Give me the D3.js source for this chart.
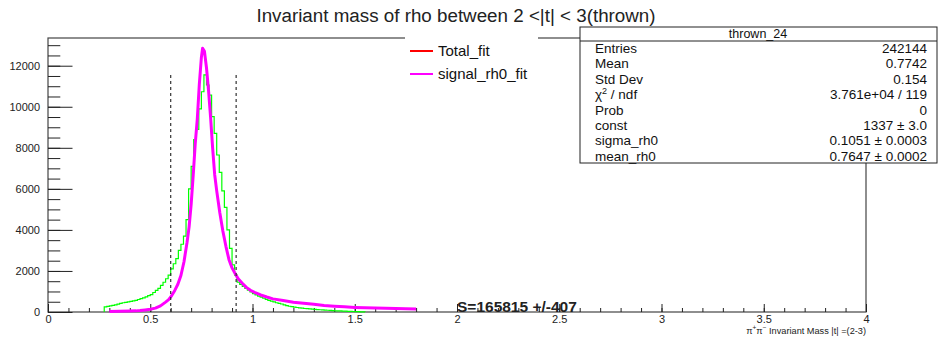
<!DOCTYPE html>
<html>
<head>
<meta charset="utf-8">
<script src="https://cdn.jsdelivr.net/npm/d3@7"></script>
<style>
  body { margin: 0; background: #fff; }
  svg { display: block; font-family: "Liberation Sans", Arial, Helvetica, sans-serif; }
</style>
</head>
<body>
<svg width="941" height="340"></svg>
<script>
// green histogram: bins of width 0.0125 starting at 0.275
const binStart = 0.275;
const binWidth = 0.0125;
const greenCounts = [
  250, 270, 300, 320, 350, 380, 420, 450, 470, 490,
  520, 540, 570, 610, 650, 690, 740, 800, 850, 950,
  1050, 1150, 1300, 1450, 1620, 1800, 2100, 2350, 2600, 3000,
  3300, 3700, 4500, 6000, 7100, 8400, 8900, 9900, 10730, 11550,
  11060, 10570, 9520, 8700, 7650, 6800, 5900, 5100, 4000, 3100,
  2300, 1800, 1450, 1350, 1250, 1150, 1070, 980, 900, 830,
  770, 720, 670, 620, 570, 530, 490, 450, 420, 390,
  350, 310, 280, 260, 240, 220, 200, 185, 170, 160,
  150, 140, 130, 120, 110, 100, 90, 85, 75, 70,
  60, 55, 50, 45, 40, 35, 30, 25, 20, 15,
  10, 5
];

// magenta fit curve samples
const fitX = [
  0.30, 0.35, 0.40, 0.43, 0.45, 0.475, 0.50, 0.525, 0.55, 0.575,
  0.59, 0.605, 0.62, 0.635, 0.65, 0.665, 0.68, 0.69, 0.70, 0.71,
  0.72, 0.73, 0.74, 0.75, 0.756, 0.765, 0.775, 0.785, 0.795, 0.805,
  0.815, 0.825, 0.84, 0.855, 0.87, 0.885, 0.90, 0.915, 0.93, 0.95,
  0.97, 0.99, 1.01, 1.04, 1.07, 1.10, 1.15, 1.20, 1.25, 1.30,
  1.35, 1.40, 1.45, 1.50, 1.55, 1.60, 1.65, 1.70, 1.75, 1.80
];
const fitY = [
  30, 35, 45, 55, 70, 100, 135, 190, 300, 480,
  600, 800, 1050, 1350, 1780, 2450, 3400, 4150, 5250, 6650,
  8200, 9400, 11100, 12400, 12850, 12700, 11900, 10800, 9500, 8000,
  6700, 5900, 4850, 3950, 3200, 2550, 2150, 1870, 1620, 1400,
  1200, 1060, 960, 830, 730, 640, 560, 480, 430, 380,
  320, 280, 250, 225, 210, 200, 185, 170, 160, 150
];

// window cut lines
const cutLines = [0.6, 0.92];
const cutTop = 11550;

const xTicks = [0, 0.5, 1, 1.5, 2, 2.5, 3, 3.5, 4];
const xMinorTicks = d3.range(0, 40).map((i) => i / 10);
const yTicks = [0, 2000, 4000, 6000, 8000, 10000, 12000];
const yMinorTicks = d3.range(0, 27).map((i) => i * 500);

const legendNames = ["Total_fit", "signal_rh0_fit"];
const legendColors = ["#ff0000", "#ff00ff"];

const statsTitle = "thrown_24";
const statsLabels = ["Entries", "Mean", "Std Dev", "chi", "Prob", "const", "sigma_rh0", "mean_rh0"];
const statsValues = ["242144", "0.7742", "0.154", "3.761e+04 / 119", "0", "1337 \u00b1 3.0", "0.1051 \u00b1 0.0003", "0.7647 \u00b1 0.0002"];

const yieldText = "S=165815 +/-407";

let svg = d3.select("svg");

let frameLeft = 48, frameRight = 866, frameTop = 38, frameBottom = 312;

let x = d3.scaleLinear().domain([0, 4]).range([frameLeft, frameRight]);
let y = d3.scaleLinear().domain([0, 13350]).range([frameBottom, frameTop]);

// frame
svg
  .append("rect")
  .attr("x", frameLeft)
  .attr("y", frameTop)
  .attr("width", frameRight - frameLeft)
  .attr("height", frameBottom - frameTop)
  .attr("fill", "none")
  .attr("stroke", "#444")
  .attr("stroke-width", 1.2);

// y axis, ticks pointing into the frame
let yMinor = svg
  .append("g")
  .attr("transform", `translate(${frameLeft},0)`)
  .call(d3.axisLeft(y).tickValues(yMinorTicks).tickSize(-12.3).tickFormat(""));
yMinor.select(".domain").remove();

let yMajor = svg
  .append("g")
  .attr("transform", `translate(${frameLeft},0)`)
  .call(d3.axisLeft(y).tickValues(yTicks).tickSize(-24.5).tickPadding(8).tickFormat(d3.format("d")));
yMajor.select(".domain").remove();
yMajor.selectAll("text").attr("font-size", "11px").attr("fill", "#222").attr("font-family", null);

// x axis
let xMinor = svg
  .append("g")
  .attr("transform", `translate(0,${frameBottom})`)
  .call(d3.axisBottom(x).tickValues(xMinorTicks).tickSize(-4).tickFormat(""));
xMinor.select(".domain").remove();

let xMajor = svg
  .append("g")
  .attr("transform", `translate(0,${frameBottom})`)
  .call(d3.axisBottom(x).tickValues(xTicks).tickSize(-8).tickPadding(3).tickFormat((d) => String(d)));
xMajor.select(".domain").remove();
xMajor.selectAll("text").attr("font-size", "11px").attr("fill", "#222").attr("font-family", null);

svg.selectAll(".tick line").attr("stroke", "#222");

// axis title
let xTitle = svg
  .append("text")
  .attr("x", frameRight)
  .attr("y", 334)
  .attr("text-anchor", "end")
  .attr("font-size", "9.2px")
  .attr("fill", "#222");
xTitle.append("tspan").text("\u03c0");
xTitle.append("tspan").attr("font-size", "6.5px").attr("dy", -4).text("+");
xTitle.append("tspan").attr("dy", 4).text("\u03c0");
xTitle.append("tspan").attr("font-size", "6.5px").attr("dy", -4).text("\u2212");
xTitle.append("tspan").attr("dy", 4).text(" Invariant Mass |t| =(2-3)");

// green histogram as a step outline
let hist = [[x(binStart), y(0)]];
greenCounts.forEach((c, i) => {
  let lo = binStart + i * binWidth;
  hist.push([x(lo), y(c)]);
  hist.push([x(lo + binWidth), y(c)]);
});
hist.push([x(binStart + greenCounts.length * binWidth), y(0)]);

svg
  .append("path")
  .attr("d", d3.line()(hist))
  .attr("fill", "none")
  .attr("stroke", "#00ff00")
  .attr("stroke-width", 1.2);

// fit curve
let fitLine = d3
  .line()
  .x((d, i) => x(fitX[i]))
  .y((d) => y(d));

svg
  .append("path")
  .attr("d", fitLine(fitY))
  .attr("fill", "none")
  .attr("stroke", "#ff00ff")
  .attr("stroke-width", 3)
  .attr("stroke-linejoin", "round");

// dashed window lines
svg
  .selectAll(".cut")
  .data(cutLines)
  .enter()
  .append("line")
  .attr("class", "cut")
  .attr("x1", (d) => x(d))
  .attr("x2", (d) => x(d))
  .attr("y1", y(0))
  .attr("y2", y(cutTop))
  .attr("stroke", "#333")
  .attr("stroke-width", 1.2)
  .attr("stroke-dasharray", "3,3");

// yield label at data position
svg
  .append("text")
  .attr("x", x(2.0))
  .attr("y", y(0) - 0.5)
  .attr("font-size", "15.5px")
  .attr("font-weight", "bold")
  .attr("fill", "#222")
  .text(yieldText);

// title
svg
  .append("text")
  .attr("x", 456)
  .attr("y", 21.5)
  .attr("text-anchor", "middle")
  .attr("font-size", "18.8px")
  .attr("fill", "#222")
  .text("Invariant mass of rho between 2 <|t| < 3(thrown)");

// legend (white box without border)
let legend = svg.append("g");
legend
  .append("rect")
  .attr("x", 405)
  .attr("y", 30)
  .attr("width", 133)
  .attr("height", 58)
  .attr("fill", "#fff");

legendNames.forEach((name, i) => {
  let ly = 51 + i * 23;
  legend
    .append("line")
    .attr("x1", 410)
    .attr("x2", 433)
    .attr("y1", ly)
    .attr("y2", ly)
    .attr("stroke", legendColors[i])
    .attr("stroke-width", 2);
  legend
    .append("text")
    .attr("x", 438)
    .attr("y", ly + 5)
    .attr("font-size", "15px")
    .attr("fill", "#111")
    .text(name);
});

// stats box
let stats = svg.append("g");
stats
  .append("rect")
  .attr("x", 580)
  .attr("y", 27)
  .attr("width", 357)
  .attr("height", 136)
  .attr("fill", "#fff")
  .attr("stroke", "#222")
  .attr("stroke-width", 1);
stats
  .append("line")
  .attr("x1", 580)
  .attr("x2", 937)
  .attr("y1", 41)
  .attr("y2", 41)
  .attr("stroke", "#222");
stats
  .append("text")
  .attr("x", 758)
  .attr("y", 38)
  .attr("text-anchor", "middle")
  .attr("font-size", "12.5px")
  .attr("fill", "#111")
  .text(statsTitle);

statsLabels.forEach((label, i) => {
  let sy = 53 + i * 15.4;
  let t = stats
    .append("text")
    .attr("x", 595)
    .attr("y", sy)
    .attr("font-size", "13.5px")
    .attr("fill", "#111");
  if (label === "chi") {
    t.append("tspan").text("\u03c7");
    t.append("tspan").attr("font-size", "9px").attr("dy", -5).text("2");
    t.append("tspan").attr("dy", 5).text(" / ndf");
  } else {
    t.text(label);
  }
  stats
    .append("text")
    .attr("x", 927)
    .attr("y", sy)
    .attr("text-anchor", "end")
    .attr("font-size", "13.5px")
    .attr("fill", "#111")
    .text(statsValues[i]);
});
</script>
</body>
</html>
